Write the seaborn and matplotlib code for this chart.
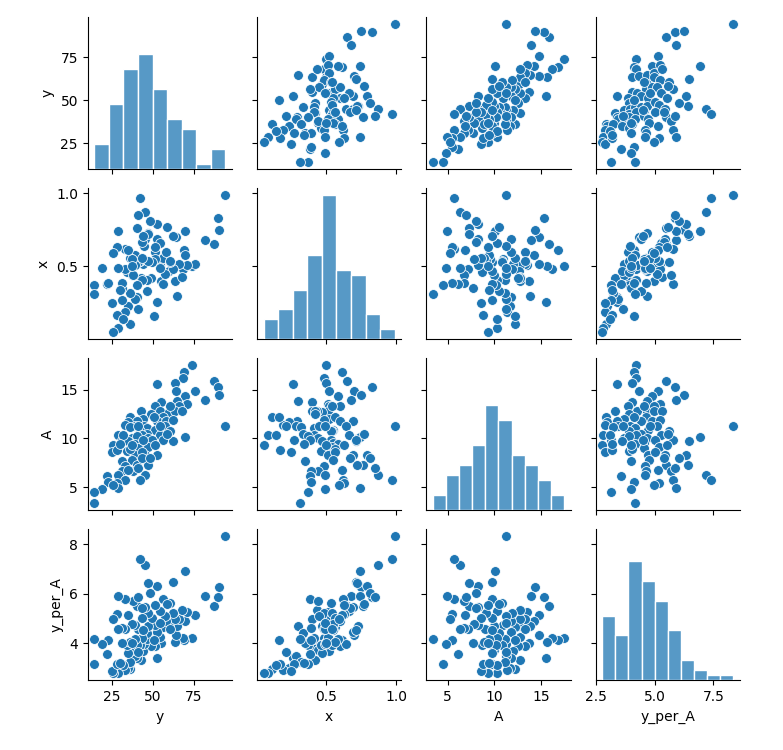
import pandas as pd
import seaborn as sns
import matplotlib.pyplot as plt
from matplotlib.ticker import MultipleLocator

# values
y = [73.9, 69.2, 68.4, 52.8, 63.6, 64.0, 87.1, 89.6, 75.9, 90.2,
     69.8, 82.0, 64.7, 55.1, 70.8, 66.1, 51.4, 54.4, 59.6, 63.6,
     68.1, 42.6, 48.7, 44.2, 56.5, 36.0, 40.1, 35.0, 52.4, 57.9,
     62.0, 94.3, 33.0, 39.1, 44.8, 46.3, 57.5, 51.4, 42.2, 36.0,
     46.3, 43.2, 60.6, 28.9, 37.1, 40.1, 46.9, 54.4, 56.5, 62.6,
     69.8, 49.3, 30.9, 35.0, 43.2, 25.8, 39.1, 41.1, 47.3, 24.8,
     34.0, 52.4, 45.2, 39.1, 27.9, 36.0, 43.2, 37.1, 30.9, 40.1,
     46.9, 33.0, 43.2, 38.1, 30.9, 28.9, 45.2, 21.7, 33.0, 42.2,
     27.9, 22.7, 35.0, 28.9, 19.1, 14.2, 14.2, 25.8, 50.4, 41.1,
     58.5, 31.9, 44.2, 51.4, 37.1, 29.9, 48.3, 41.1, 54.4, 60.6]

x = [0.50, 0.61, 0.48, 0.26, 0.50, 0.70, 0.65, 0.83, 0.52, 0.75,
     0.58, 0.68, 0.30, 0.40, 0.51, 0.52, 0.60, 0.51, 0.47, 0.40,
     0.43, 0.42, 0.42, 0.52, 0.56, 0.11, 0.29, 0.23, 0.69, 0.60,
     0.48, 0.99, 0.19, 0.28, 0.64, 0.41, 0.45, 0.55, 0.54, 0.32,
     0.33, 0.41, 0.53, 0.08, 0.44, 0.37, 0.73, 0.66, 0.38, 0.71,
     0.74, 0.53, 0.27, 0.47, 0.55, 0.05, 0.58, 0.53, 0.54, 0.25,
     0.46, 0.79, 0.69, 0.51, 0.17, 0.56, 0.56, 0.55, 0.35, 0.76,
     0.72, 0.48, 0.67, 0.44, 0.39, 0.49, 0.87, 0.38, 0.62, 0.97,
     0.63, 0.39, 0.61, 0.74, 0.49, 0.37, 0.31, 0.59, 0.16, 0.21,
     0.77, 0.14, 0.71, 0.63, 0.50, 0.34, 0.81, 0.85, 0.49, 0.54]

A = [17.5, 16.8, 16.2, 15.6, 15.7, 14.8, 15.9, 15.3, 14.8, 14.4,
     14.3, 13.9, 13.8, 13.7, 13.5, 13.3, 13.3, 12.8, 12.7, 12.8,
     12.8, 12.8, 12.5, 12.0, 12.2, 12.2, 11.8, 11.7, 11.8, 11.8,
     11.9, 11.3, 11.4, 11.3, 11.3, 11.1, 11.3, 10.9, 10.8, 11.2,
     10.5, 10.3, 10.8, 10.3, 10.0, 10.2, 10.0, 10.3, 9.8, 9.7,
     10.1, 9.8, 9.8, 9.7, 9.5, 9.3, 9.4, 9.0, 9.1, 8.6,
     8.7, 8.3, 8.3, 8.3, 8.8, 8.9, 8.6, 7.8, 7.7, 7.3,
     7.3, 7.2, 8.0, 6.7, 6.7, 6.3, 6.3, 6.1, 5.7, 5.7,
     5.4, 5.5, 6.8, 4.9, 4.8, 4.5, 3.4, 5.2, 12.2, 11.3,
     10.5, 10.3, 9.8, 9.3, 9.3, 9.4, 8.0, 7.0, 11.3, 13.3]

# bar count of each diagonal histogram in the reference
n_bins = {'y': 9, 'x': 9, 'A': 10, 'y_per_A': 10}

df = pd.DataFrame({'y': y, 'x': x, 'A': A})
df['y_per_A'] = df['y'] / df['A']


def diag_hist(x, **kws):
    sns.histplot(x=x, bins=n_bins[x.name], edgecolor='white', linewidth=1, **kws)


g = sns.PairGrid(df, height=1.9)
g.map_diag(diag_hist)
g.map_offdiag(sns.scatterplot, s=50)

g.axes[0, 0].yaxis.set_major_locator(MultipleLocator(25))
g.axes[1, 0].yaxis.set_major_locator(MultipleLocator(0.5))

g.figure.set_size_inches(7.83, 7.5)
g.figure.subplots_adjust(left=0.112, right=0.945, top=0.977, bottom=0.093,
                         wspace=0.174, hspace=0.125)
g.figure.savefig('out.png', dpi=100)
